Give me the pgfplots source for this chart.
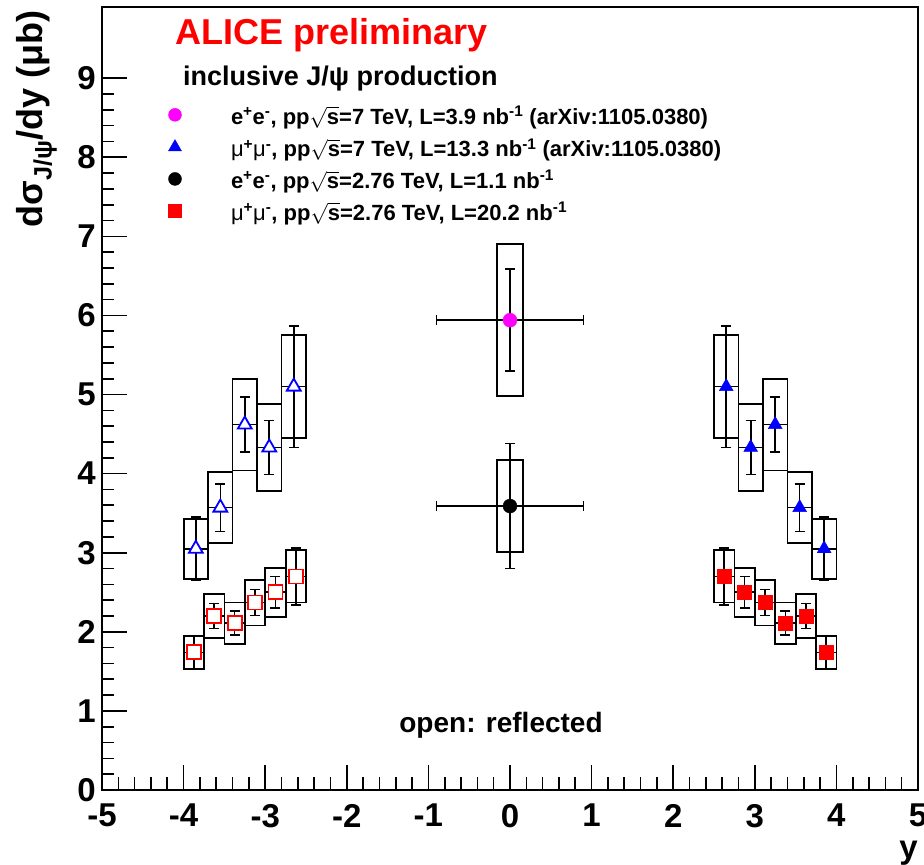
\documentclass[border=0pt]{standalone}
\usepackage{pgfplots}
\pgfplotsset{compat=1.18}
\usepackage{pgfplotstable}
\usepackage{fontspec}
\setmainfont{Liberation Sans}
\definecolor{rootblue}{RGB}{0,0,255}
\definecolor{rootred}{RGB}{255,0,0}
\definecolor{rootmag}{RGB}{255,0,255}

\pgfdeclareplotmark{nomark}{}

% mu+mu-, pp sqrt(s)=7 TeV (measured, forward rapidity)
\pgfplotstableread{
x     y     ex     stat   bw     sys
2.65  5.10  0.15   0.77   0.15   0.65
2.95  4.33  0.15   0.34   0.15   0.55
3.25  4.62  0.15   0.35   0.15   0.58
3.55  3.57  0.15   0.30   0.15   0.45
3.85  3.05  0.15   0.40   0.15   0.38
}\muSeven

% mu+mu-, pp sqrt(s)=2.76 TeV
\pgfplotstableread{
x      y     ex      stat   bw      sys
2.625  2.70  0.125   0.36   0.125   0.33
2.875  2.50  0.125   0.20   0.125   0.31
3.125  2.37  0.125   0.165  0.125   0.29
3.375  2.11  0.125   0.15   0.125   0.26
3.625  2.20  0.125   0.16   0.125   0.28
3.875  1.74  0.125   0.21   0.125   0.21
}\muTwo

% e+e-, pp sqrt(s)=7 TeV
\pgfplotstableread{
x   y     ex    stat   bw    sys
0   5.94  0.9   0.645  0.16  0.96
}\eeSeven

% e+e-, pp sqrt(s)=2.76 TeV
\pgfplotstableread{
x   y     ex    stat   bw    sys
0   3.59  0.9   0.79   0.16  0.58
}\eeTwo

\pgfplotsset{
  sysbox/.style={
    forget plot, only marks, mark=nomark, scatter,
    visualization depends on={\thisrow{bw} \as \bw},
    visualization depends on={\thisrow{sys} \as \sy},
    scatter/@pre marker code/.code={%
      \draw[black, line width=1.8pt] (axis direction cs:-\bw,-\sy) rectangle (axis direction cs:\bw,\sy);
    },
    scatter/@post marker code/.code={},
  },
  staterr/.style={
    forget plot, draw=none, mark=none,
    error bars/.cd,
      x dir=both, x explicit, y dir=both, y explicit,
      error bar style={draw=black, line width=1.6pt},
      error mark options={rotate=90, draw=black, line width=1.6pt, mark size=5pt},
  },
}

\begin{document}
\begin{tikzpicture}
\begin{axis}[
  at={(102pt,75pt)}, anchor=south west,
  scale only axis, width=816pt, height=783pt,
  xmin=-5, xmax=5, ymin=0, ymax=9.9,
  xtick={-5,-4,...,5}, ytick={0,1,...,9},
  minor x tick num=4, minor y tick num=4,
  xtick pos=bottom, ytick pos=left, tick align=inside,
  major tick length=25pt, minor tick length=12.5pt,
  tick style={black, line width=1.6pt},
  axis line style={line width=2pt},
  /pgf/number format/assume math mode=true,
  ticklabel style={font=\bfseries\fontsize{33}{36}\selectfont, inner sep=0pt},
  xticklabel style={yshift=-14pt},
  yticklabel style={xshift=-6pt},
  xlabel={y},
  xlabel style={at={(axis description cs:1,-0.088)}, anchor=base east, inner sep=0pt,
    font=\bfseries\fontsize{33}{36}\selectfont},
  ylabel={dσ\textsubscript{J/ψ}/dy (μb)},
  ylabel style={at={(axis description cs:-0.0735,0.996)}, anchor=base east, inner sep=0pt,
    font=\bfseries\fontsize{36}{40}\selectfont},
  legend image code/.code={%
    \path[draw=none, fill=none] (0pt,0pt) rectangle (78pt,12pt);
    \draw[#1] plot[only marks] coordinates {(22pt,5pt)};},
  legend cell align=left,
  legend style={at={(axis cs:-4.375,8.625)}, anchor=north west, draw=none, fill=none,
    inner sep=0pt, outer sep=0pt, row sep=10.3pt,
    nodes={inner sep=0pt, text height=14pt, text depth=5pt},
    font=\bfseries\fontsize{22}{26}\selectfont},
]
\addlegendimage{mark=*, mark size=6.5pt, color=rootmag}
\addlegendentry{e\textsuperscript{+}e\textsuperscript{-}, pp$\sqrt{\mbox{s}}$=7 TeV, L=3.9 nb\textsuperscript{-1} (arXiv:1105.0380)}
\addlegendimage{mark=triangle*, mark size=7.5pt, color=rootblue}
\addlegendentry{{\mdseries μ}\textsuperscript{+}{\mdseries μ}\textsuperscript{-}, pp$\sqrt{\mbox{s}}$=7 TeV, L=13.3 nb\textsuperscript{-1} (arXiv:1105.0380)}
\addlegendimage{mark=*, mark size=6.5pt, color=black}
\addlegendentry{e\textsuperscript{+}e\textsuperscript{-}, pp$\sqrt{\mbox{s}}$=2.76 TeV, L=1.1 nb\textsuperscript{-1}}
\addlegendimage{mark=square*, mark size=6.5pt, color=rootred}
\addlegendentry{{\mdseries μ}\textsuperscript{+}{\mdseries μ}\textsuperscript{-}, pp$\sqrt{\mbox{s}}$=2.76 TeV, L=20.2 nb\textsuperscript{-1}}

% systematic boxes
\addplot[sysbox] table[x=x, y=y] {\muSeven};
\addplot[sysbox] table[x expr=-\thisrow{x}, y=y] {\muSeven};
\addplot[sysbox] table[x=x, y=y] {\muTwo};
\addplot[sysbox] table[x expr=-\thisrow{x}, y=y] {\muTwo};
\addplot[sysbox] table[x=x, y=y] {\eeSeven};
\addplot[sysbox] table[x=x, y=y] {\eeTwo};

% statistical errors and bin widths
\addplot[staterr] table[x=x, y=y, x error=ex, y error=stat] {\muSeven};
\addplot[staterr] table[x expr=-\thisrow{x}, y=y, x error=ex, y error=stat] {\muSeven};
\addplot[staterr] table[x=x, y=y, x error=ex, y error=stat] {\muTwo};
\addplot[staterr] table[x expr=-\thisrow{x}, y=y, x error=ex, y error=stat] {\muTwo};
\addplot[staterr] table[x=x, y=y, x error=ex, y error=stat] {\eeSeven};
\addplot[staterr] table[x=x, y=y, x error=ex, y error=stat] {\eeTwo};

% markers
\addplot[forget plot, only marks, mark=triangle*, mark size=8pt, color=rootblue] table[x=x, y=y] {\muSeven};
\addplot[forget plot, only marks, mark=triangle*, mark size=8pt, mark options={draw=rootblue, fill=white, line width=1.8pt}] table[x expr=-\thisrow{x}, y=y] {\muSeven};
\addplot[forget plot, only marks, mark=square*, mark size=7pt, color=rootred] table[x=x, y=y] {\muTwo};
\addplot[forget plot, only marks, mark=square*, mark size=7pt, mark options={draw=rootred, fill=white, line width=1.8pt}] table[x expr=-\thisrow{x}, y=y] {\muTwo};
\addplot[forget plot, only marks, mark=*, mark size=7pt, color=rootmag] table[x=x, y=y] {\eeSeven};
\addplot[forget plot, only marks, mark=*, mark size=7pt, color=black] table[x=x, y=y] {\eeTwo};

% annotations
\node[anchor=base west, inner sep=0pt, text=rootred, font=\bfseries\fontsize{36}{40}\selectfont]
  at (axis cs:-4.105,9.43) {ALICE preliminary};
\node[anchor=base west, inner sep=0pt, font=\bfseries\fontsize{27}{30}\selectfont]
  at (axis cs:-4.007,8.91) {inclusive J/ψ production};
\node[anchor=base, inner sep=0pt, font=\bfseries\fontsize{28}{30}\selectfont]
  at (axis cs:-0.11,0.73) {open: reflected};
\end{axis}
\pgfresetboundingbox
\path[use as bounding box] (0pt,0pt) rectangle (924pt,865pt);
\end{tikzpicture}
\end{document}
